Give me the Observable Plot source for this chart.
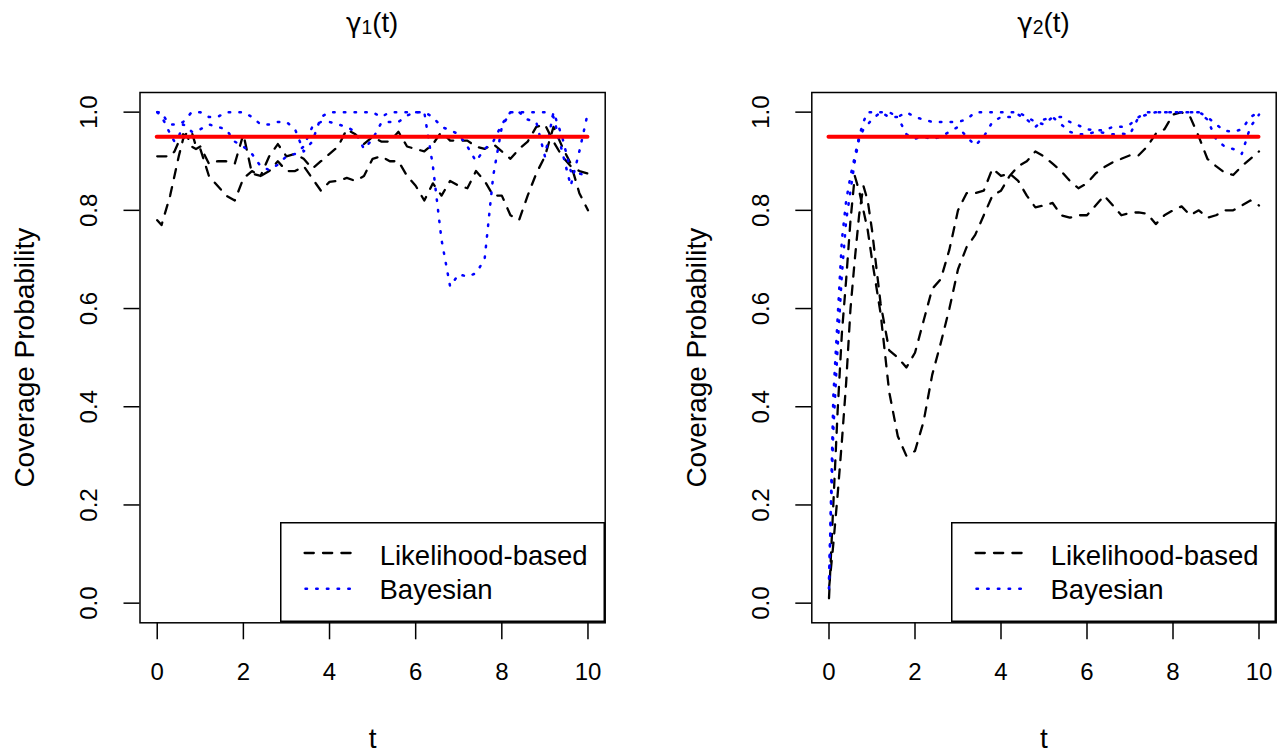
<!DOCTYPE html>
<html><head><meta charset="utf-8">
<script src="https://cdn.jsdelivr.net/npm/d3@7"></script>
<script src="https://cdn.jsdelivr.net/npm/@observablehq/plot@0.6"></script>
<style>
html,body{margin:0;padding:0;background:#fff;overflow:hidden}
#wrap{position:relative;width:1287px;height:754px;font-family:"Liberation Sans",Arial,Helvetica,sans-serif;color:#000}
.panel{position:absolute;top:0}
.title{position:absolute;top:9px;width:240px;font-size:27.6px;line-height:27.6px;text-align:center;white-space:nowrap}
.title .g{font-family:"DejaVu Sans",sans-serif;font-size:0.95em}
.title sub{font-size:0.7em;vertical-align:-0.12em;line-height:0}
.legend{position:absolute}
</style></head><body><div id="wrap"></div>
<script>
// ---------- data ----------
const T = [0,0.1,0.2,0.3,0.4,0.5,0.6,0.7,0.8,0.9,1.0,
  1.2,1.4,1.6,1.8,2.0,2.2,2.4,2.6,2.8,3.0,
  3.2,3.4,3.6,3.8,4.0,4.2,4.4,4.6,4.8,5.0,
  5.2,5.4,5.6,5.8,6.0,6.2,6.4,6.6,6.8,7.0,
  7.2,7.4,7.6,7.8,8.0,8.2,8.4,8.6,8.8,9.0,
  9.2,9.4,9.6,9.8,10.0];

// gamma_1(t) panel
const g1Lik1 = [0.78,0.77,0.80,0.83,0.87,0.91,0.945,0.96,0.96,0.93,0.925,
  0.87,0.85,0.83,0.82,0.865,0.88,0.87,0.88,0.90,0.88,
  0.88,0.89,0.865,0.84,0.858,0.86,0.866,0.86,0.87,0.905,
  0.91,0.90,0.90,0.87,0.85,0.82,0.855,0.83,0.86,0.85,
  0.845,0.88,0.86,0.83,0.83,0.79,0.78,0.83,0.875,0.91,
  0.97,0.93,0.895,0.835,0.80];
const g1Lik2 = [0.91,0.91,0.91,0.91,0.92,0.94,0.955,0.95,0.93,0.925,0.93,
  0.895,0.90,0.90,0.895,0.955,0.875,0.87,0.91,0.935,0.91,
  0.915,0.905,0.885,0.90,0.915,0.93,0.965,0.955,0.935,0.95,
  0.94,0.94,0.96,0.93,0.925,0.92,0.935,0.96,0.942,0.942,
  0.942,0.93,0.925,0.935,0.92,0.905,0.925,0.94,0.97,0.975,
  0.94,0.91,0.89,0.88,0.875];
const g1Bay1 = [1.0,1.0,0.985,0.975,0.975,0.975,0.98,0.99,1.0,1.0,1.0,
  0.99,0.99,1.0,1.0,1.0,0.99,0.975,0.975,0.98,0.98,
  0.965,0.92,0.94,0.99,1.0,1.0,1.0,1.0,1.0,1.0,
  0.99,1.0,1.0,1.0,1.0,1.0,0.89,0.74,0.645,0.67,
  0.665,0.672,0.70,0.87,0.97,1.0,1.0,1.0,1.0,1.0,
  0.99,0.92,0.85,0.92,1.0];
const g1Bay2 = [1.0,0.99,0.975,0.955,0.94,0.95,0.975,0.97,0.96,0.96,0.965,
  0.975,0.97,0.965,0.94,0.93,0.915,0.89,0.882,0.893,0.91,
  0.915,0.93,0.97,0.98,0.98,0.975,0.97,0.96,0.925,0.945,
  0.978,0.98,0.98,0.993,1.0,1.0,0.99,0.97,0.963,0.955,
  0.93,0.90,0.925,0.94,0.975,1.0,1.0,0.985,0.98,0.91,
  1.0,0.95,0.88,0.875,0.87];

// gamma_2(t) panel
const g2Lik1 = [0.01,0.20,0.39,0.55,0.66,0.78,0.87,0.84,0.80,0.76,0.70,
  0.59,0.43,0.34,0.30,0.31,0.37,0.465,0.53,0.60,0.68,
  0.725,0.75,0.79,0.83,0.84,0.87,0.89,0.90,0.92,0.91,
  0.895,0.88,0.86,0.845,0.855,0.875,0.888,0.898,0.905,0.912,
  0.912,0.93,0.956,0.965,0.995,1.0,0.99,0.95,0.905,0.89,
  0.877,0.872,0.89,0.905,0.92];
const g2Lik2 = [0.03,0.12,0.22,0.33,0.45,0.60,0.70,0.79,0.85,0.82,0.76,
  0.61,0.515,0.50,0.48,0.51,0.575,0.64,0.66,0.72,0.80,
  0.835,0.835,0.84,0.885,0.87,0.875,0.86,0.83,0.806,0.81,
  0.815,0.79,0.785,0.79,0.79,0.81,0.83,0.81,0.79,0.795,
  0.796,0.793,0.772,0.79,0.80,0.808,0.79,0.80,0.785,0.79,
  0.80,0.80,0.81,0.82,0.81];
const g2Bay1 = [0.03,0.42,0.58,0.74,0.82,0.87,0.91,0.95,0.98,1.0,1.0,
  1.0,1.0,0.99,1.0,0.99,0.985,0.98,0.98,0.98,0.98,
  0.985,1.0,1.0,1.0,1.0,1.0,1.0,0.99,0.98,0.975,
  0.99,0.99,0.98,0.973,0.965,0.963,0.963,0.97,0.97,0.975,
  0.99,1.0,1.0,1.0,1.0,1.0,1.0,1.0,0.99,0.975,
  0.962,0.96,0.965,0.99,1.0];
const g2Bay2 = [0.05,0.35,0.52,0.67,0.78,0.84,0.90,0.945,0.965,0.975,0.985,
  1.0,0.99,0.99,0.955,0.946,0.95,0.945,0.95,0.96,0.97,
  0.95,0.932,0.95,0.98,0.99,0.99,0.995,0.985,0.97,0.985,
  0.99,0.975,0.96,0.955,0.955,0.96,0.958,0.955,0.956,0.955,
  0.99,0.995,1.0,1.0,1.0,1.0,1.0,1.0,0.985,0.945,
  0.93,0.925,0.915,0.97,0.995];

const nominal = 0.95;
const tStart = 0, tEnd = 10;
const xTicks = [0,2,4,6,8,10];
const yTicks = [0,0.2,0.4,0.6,0.8,1.0];
const methods = ["Likelihood-based","Bayesian"];
const yLabel = "Coverage Probability";
const xLabel = "t";

// ---------- drawing ----------
const FONT = '"Liberation Sans", Arial, Helvetica, sans-serif';
const wrap = document.getElementById("wrap");

function makePanel({left, width, marginLeft, marginRight, lik, bay, sub}) {
  const rows = [];
  lik.forEach((arr, k) => arr.forEach((v, i) => rows.push({t: T[i], v, key: "L" + k, method: methods[0]})));
  bay.forEach((arr, k) => arr.forEach((v, i) => rows.push({t: T[i], v, key: "B" + k, method: methods[1]})));
  const svg = Plot.plot({
    width, height: 754,
    marginLeft, marginRight, marginTop: 92, marginBottom: 131.7,
    x: {domain: [-0.4, 10.4]},
    y: {domain: [-0.04, 1.04]},
    style: {fontFamily: FONT, fontSize: "24px", color: "black", background: "transparent", overflow: "visible"},
    marks: [
      Plot.axisX({ticks: xTicks, tickSize: 17, tickPadding: 23, fontSize: 24, tickFormat: d => String(d), strokeWidth: 1.5, label: null}),
      Plot.axisY({ticks: yTicks, tickSize: 16, tickPadding: 27, fontSize: 24, tickRotate: -90, tickFormat: d3.format(".1f"), strokeWidth: 1.5, label: null}),
      Plot.line(rows.filter(d => d.method === methods[0]), {x: "t", y: "v", z: "key", stroke: "black", strokeWidth: 2.3, strokeDasharray: "9.2 9.2", strokeLinecap: "round", strokeLinejoin: "round"}),
      Plot.line(rows.filter(d => d.method === methods[1]), {x: "t", y: "v", z: "key", stroke: "#0000ff", strokeWidth: 2.5, strokeDasharray: "1.5 9.2", strokeLinecap: "round", strokeLinejoin: "round"}),
      Plot.ruleY([nominal], {x1: tStart, x2: tEnd, stroke: "#ff0000", strokeWidth: 4, strokeLinecap: "round"}),
      Plot.frame({stroke: "black", strokeWidth: 1.5}),
      Plot.text([yLabel], {frameAnchor: "left", dx: -114.5, rotate: -90, textAnchor: "middle", lineAnchor: "middle", fontSize: 28, text: d => d}),
      Plot.text([xLabel], {frameAnchor: "bottom", dy: 116, fontSize: 28, textAnchor: "middle", lineAnchor: "middle", text: d => d})
    ]
  });
  const div = document.createElement("div");
  div.className = "panel";
  div.style.left = left + "px";
  div.style.width = width + "px";
  div.appendChild(svg);
  wrap.appendChild(div);

  const boxL = left + marginLeft, boxR = left + width - marginRight;
  const cx = (boxL + boxR) / 2;
  const title = document.createElement("div");
  title.className = "title";
  title.style.left = (cx - 120) + "px";
  title.innerHTML = '<span class="g">\u03b3</span><sub>' + sub + "</sub>(t)";
  wrap.appendChild(title);

  // legend (bottom right, inside box)
  const lw = 325, lh = 100;
  const lg = d3.create("svg").attr("class", "legend").attr("width", lw).attr("height", lh)
    .style("left", (boxR - lw + 0.3) + "px").style("top", "522.3px");
  lg.append("rect").attr("x", 0.75).attr("y", 0.75).attr("width", lw - 1.5).attr("height", lh - 1.5)
    .attr("fill", "white").attr("stroke", "black").attr("stroke-width", 1.5);
  lg.append("line").attr("x1", 24.6).attr("x2", 72.3).attr("y1", 31).attr("y2", 31)
    .attr("stroke", "black").attr("stroke-width", 2.3).attr("stroke-dasharray", "9.2 9.2").attr("stroke-linecap", "round");
  lg.append("line").attr("x1", 25.5).attr("x2", 71.5).attr("y1", 66.7).attr("y2", 66.7)
    .attr("stroke", "#0000ff").attr("stroke-width", 2.5).attr("stroke-dasharray", "1.5 9.2").attr("stroke-linecap", "round");
  lg.append("text").attr("x", 99.7).attr("y", 42.7).attr("font-size", 27.5).attr("font-family", FONT).text(methods[0]);
  lg.append("text").attr("x", 99.5).attr("y", 77).attr("font-size", 27.5).attr("font-family", FONT).text(methods[1]);
  wrap.appendChild(lg.node());
}

makePanel({left: 0, width: 643, marginLeft: 139.5, marginRight: 38.3, lik: [g1Lik1, g1Lik2], bay: [g1Bay1, g1Bay2], sub: "1"});
makePanel({left: 643, width: 644, marginLeft: 168.3, marginRight: 11.3, lik: [g2Lik1, g2Lik2], bay: [g2Bay1, g2Bay2], sub: "2"});
</script></body></html>
